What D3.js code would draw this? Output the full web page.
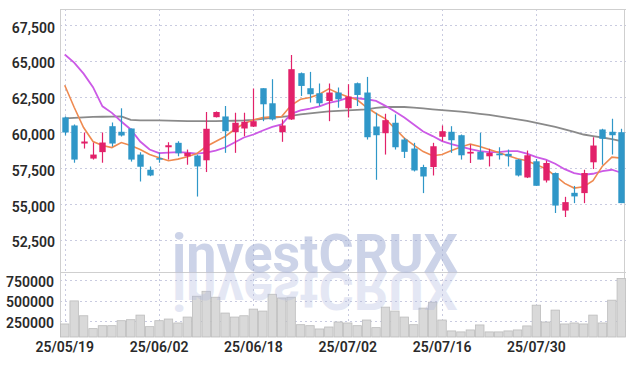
<!DOCTYPE html>
<html>
<head>
<meta charset="utf-8">
<script src="https://cdn.jsdelivr.net/npm/d3@7"></script>
<style>
  body { margin: 0; background: #fff; }
  svg { display: block; }
  .tick text { font-family: "Liberation Sans Narrow", "Roboto", sans-serif; font-size: 14px; font-weight: 600; fill: #2a2a2a; }
</style>
</head>
<body>
<script>
// trading days shown on the chart (yy/mm/dd)
var dates = [
  "25/05/19","25/05/20","25/05/21","25/05/22","25/05/23","25/05/26","25/05/27","25/05/28","25/05/29","25/05/30",
  "25/06/02","25/06/04","25/06/05","25/06/09","25/06/10","25/06/11","25/06/12","25/06/13","25/06/16","25/06/17",
  "25/06/18","25/06/19","25/06/20","25/06/23","25/06/24","25/06/25","25/06/26","25/06/27","25/06/30","25/07/01",
  "25/07/02","25/07/03","25/07/04","25/07/07","25/07/08","25/07/09","25/07/10","25/07/11","25/07/14","25/07/15",
  "25/07/16","25/07/17","25/07/18","25/07/21","25/07/22","25/07/23","25/07/24","25/07/25","25/07/28","25/07/29",
  "25/07/30","25/07/31","25/08/01","25/08/04","25/08/05","25/08/06","25/08/07","25/08/08","25/08/11","25/08/12"
]

var opens = [61050,60490,59230,58180,58630,60440,60050,60280,58460,57400,
             58210,58970,59280,58340,58390,58060,61070,61120,60020,60280,
             60410,63090,62040,60020,60910,64140,63090,62740,62200,62790,
             61690,63440,62790,60420,59950,60680,59510,58880,57590,57590,
             59700,60050,59810,58530,58650,58340,58530,58510,58110,56860,
             57990,56650,57170,54550,55790,55770,57920,60210,60050,60020]
var highs = [61120,60560,60000,59300,60000,60700,61690,60280,58620,57630,
             58600,59320,59390,58810,58460,61430,61470,61850,61380,61380,
             63070,63090,63720,60910,65410,64190,64230,63420,63420,63140,
             63370,63490,63880,61380,61310,61260,59630,59280,57750,59280,
             60490,60440,59860,59160,59980,58860,58970,58810,58150,58740,
             58150,58040,57210,55510,56270,57400,59670,60260,60960,60260]
var lows = [59790,57890,58880,58110,57890,59020,59720,57970,56580,56950,
            57890,58110,58340,57750,55530,57240,61050,58580,58580,59740,
            60390,60790,60840,59350,60880,62550,62090,61850,60790,61730,
            61050,61850,59510,56700,58460,58810,58220,57280,55770,57000,
            59390,58580,58110,57870,58110,57630,58110,57630,56930,56820,
            56280,56510,54380,54100,55070,55070,57450,57750,58460,55070]
var closes = [60000,58110,59370,58460,59300,59230,59790,58110,57610,57000,
              58110,59110,58550,58580,57630,60260,61430,60090,60680,60750,
              60790,61970,60910,60490,64420,63250,62670,62040,62790,62320,
              62510,62620,59670,59810,60860,58970,58650,57350,56930,59040,
              60090,59460,58410,58650,58110,58580,58410,58340,57000,58410,
              56280,57870,54900,55140,55540,57170,59090,59560,59810,55070]
var volumes = [214000,495000,314000,157000,193000,193000,254000,266000,322000,181000,
               254000,274000,226000,298000,552000,612000,540000,347000,298000,314000,
               395000,371000,576000,531000,540000,205000,193000,153000,177000,238000,
               226000,193000,262000,169000,419000,371000,298000,205000,407000,479000,
               262000,129000,117000,141000,202000,117000,117000,129000,141000,190000,
               443000,238000,383000,214000,226000,214000,322000,226000,504000,769000]

// moving average lines
var ma5 = [63300,61760,60350,59370,59090,58950,59300,59090,58810,58460,
           58240,58030,58140,58310,58530,59020,59370,59720,60210,60630,
           60880,61050,61090,61120,61900,62320,62440,62670,63050,62740,
           62490,62280,61760,61330,60950,60280,59610,59120,58670,58380,
           58460,58740,58980,59190,59020,58810,58600,58380,58170,58030,
           57750,57470,56980,56450,56120,56210,56630,57650,58280,58210]
var ma10 = [65440,64880,64110,63160,61830,61370,60770,60210,59370,58810,
            58560,58600,58630,58600,58530,58600,58740,58950,59300,59650,
            59860,60140,60390,60560,61300,61540,61660,61830,62070,62210,
            62420,62390,62320,62210,61860,61470,61050,60560,60070,59750,
            59400,59190,59020,58840,58700,58630,58630,58700,58700,58530,
            58280,58100,57820,57440,57160,57050,57120,57300,57400,57190]
var ma60 = [60980,61020,61050,61090,61100,61110,61120,60880,60840,60840,
            60840,60830,60810,60790,60790,60790,60790,60810,60820,60840,
            60880,60950,61020,61090,61160,61260,61330,61400,61470,61510,
            61540,61580,61620,61720,61780,61790,61780,61740,61690,61620,
            61560,61510,61460,61380,61300,61230,61120,61020,60910,60810,
            60670,60530,60390,60210,60040,59860,59750,59650,59540,59400]

var priceTicks = [52500, 55000, 57500, 60000, 62500, 65000, 67500]
var volumeTicks = [250000, 500000, 750000]
var dateTicks = ["25/05/19","25/06/02","25/06/18","25/07/02","25/07/16","25/07/30"]

var width = 634
var height = 366
var left = 60, right = 626
var priceTop = 9, priceBottom = 272
var volTop = 272, volBottom = 337

var svg = d3.select("body")
            .append("svg")
            .attr("width", width)
            .attr("height", height)

var xScale = d3.scaleBand()
               .domain(dates)
               .range([left, right])
var cx = function(d){ return xScale(d) + xScale.bandwidth() / 2 }

var yScale = d3.scaleLinear()
               .domain([50263, 68620])
               .range([priceBottom, priceTop])
var vScale = d3.scaleLinear()
               .domain([0, 750000])
               .range([341.5, 280])

// grid lines
var grid = svg.append("g")
              .attr("stroke", "#c9cbe0")
              .attr("stroke-width", 1)
              .attr("stroke-dasharray", "2,3")
grid.selectAll(".hp")
    .data(priceTicks)
    .enter()
    .append("line")
    .attr("x1", left).attr("x2", right)
    .attr("y1", function(d){ return Math.round(yScale(d)) + 0.5 })
    .attr("y2", function(d){ return Math.round(yScale(d)) + 0.5 })
grid.selectAll(".hv")
    .data(volumeTicks)
    .enter()
    .append("line")
    .attr("x1", left).attr("x2", right)
    .attr("y1", function(d){ return Math.round(vScale(d)) + 0.5 })
    .attr("y2", function(d){ return Math.round(vScale(d)) + 0.5 })
grid.selectAll(".vx")
    .data(dateTicks)
    .enter()
    .append("line")
    .attr("x1", function(d){ return Math.round(cx(d)) + 0.5 })
    .attr("x2", function(d){ return Math.round(cx(d)) + 0.5 })
    .attr("y1", priceTop).attr("y2", volBottom)

// frame
var frame = svg.append("g").attr("stroke", "#cfcfcf").attr("stroke-width", 1).attr("fill", "none")
frame.append("line").attr("x1", left).attr("x2", right).attr("y1", priceTop + 0.5).attr("y2", priceTop + 0.5)
frame.append("line").attr("x1", left).attr("x2", right).attr("y1", volTop + 0.5).attr("y2", volTop + 0.5)
frame.append("line").attr("x1", left + 0.5).attr("x2", left + 0.5).attr("y1", priceTop).attr("y2", volBottom)
frame.append("line").attr("x1", right - 1.5).attr("x2", right - 1.5).attr("y1", priceTop).attr("y2", volBottom)

// volume bars
svg.append("g")
   .selectAll("rect")
   .data(volumes)
   .enter()
   .append("rect")
   .attr("x", function(d, i){ return xScale(dates[i]) + 0.5 })
   .attr("width", xScale.bandwidth() - 1)
   .attr("y", function(d){ return vScale(d) })
   .attr("height", function(d){ return volBottom - vScale(d) })
   .attr("fill", "#d9d9d9")
   .attr("stroke", "#bcbcbc")
   .attr("stroke-width", 0.8)

// watermark with its mirror image below the baseline
var mark = svg.append("g")
              .style("font-family", "'Liberation Sans Narrow', Roboto, sans-serif")
              .style("font-weight", 700)
              .style("font-size", "54px")
mark.append("text")
    .attr("x", 172).attr("y", 272)
    .attr("textLength", 286).attr("lengthAdjust", "spacingAndGlyphs")
    .attr("fill", "#9aa8d2").attr("opacity", 0.5)
    .text("investCRUX")
mark.append("text")
    .attr("x", 172).attr("y", 272)
    .attr("transform", "translate(0," + (2 * 272) + ") scale(1,-1)")
    .attr("textLength", 286).attr("lengthAdjust", "spacingAndGlyphs")
    .attr("fill", "#aeb8de").attr("opacity", 0.32)
    .text("investCRUX")

// moving averages
var maLine = function(values){
  return d3.line()
           .x(function(d, i){ return cx(dates[i]) })
           .y(function(d){ return yScale(d) })(values)
}
svg.append("path").attr("d", maLine(ma60)).attr("fill", "none").attr("stroke", "#8a8a8a").attr("stroke-width", 1.8)
svg.append("path").attr("d", maLine(ma10)).attr("fill", "none").attr("stroke", "#cc5ae6").attr("stroke-width", 1.8)
svg.append("path").attr("d", maLine(ma5)).attr("fill", "none").attr("stroke", "#ef8a50").attr("stroke-width", 1.6)

// candles: red = up, blue = down
var upColour = "#e2216a"
var downColour = "#2f97c8"
var candle = svg.append("g")
                .selectAll("g")
                .data(dates)
                .enter()
                .append("g")
candle.append("line")
      .attr("x1", function(d){ return Math.round(cx(d)) + 0.5 })
      .attr("x2", function(d){ return Math.round(cx(d)) + 0.5 })
      .attr("y1", function(d, i){ return yScale(highs[i]) })
      .attr("y2", function(d, i){ return yScale(lows[i]) })
      .attr("stroke", function(d, i){ return closes[i] >= opens[i] ? upColour : downColour })
      .attr("stroke-width", 1.2)
candle.append("rect")
      .attr("x", function(d){ return Math.round(cx(d)) + 0.5 - 3.2 })
      .attr("width", 6.4)
      .attr("y", function(d, i){ return yScale(Math.max(opens[i], closes[i])) })
      .attr("height", function(d, i){
        return Math.max(1.5, Math.abs(yScale(opens[i]) - yScale(closes[i])))
      })
      .attr("fill", function(d, i){ return closes[i] >= opens[i] ? upColour : downColour })

// axes
var priceAxis = d3.axisLeft(yScale)
                  .tickValues(priceTicks)
                  .tickFormat(d3.format(","))
                  .tickSize(0)
                  .tickPadding(5)
svg.append("g")
   .attr("transform", "translate(" + left + ",0)")
   .call(priceAxis)
   .call(function(g){ g.select(".domain").remove() })
   .selectAll("text").attr("dy", "0.5em")

var volAxis = d3.axisLeft(vScale)
                .tickValues(volumeTicks)
                .tickFormat(d3.format("d"))
                .tickSize(0)
                .tickPadding(6)
svg.append("g")
   .attr("transform", "translate(" + left + ",0)")
   .call(volAxis)
   .call(function(g){ g.select(".domain").remove() })
   .selectAll("text").attr("dy", "0.45em")

var dateAxis = d3.axisBottom(xScale)
                 .tickValues(dateTicks)
                 .tickSize(0)
                 .tickPadding(5)
svg.append("g")
   .attr("transform", "translate(0," + volBottom + ")")
   .call(dateAxis)
   .call(function(g){ g.select(".domain").remove() })
</script>
</body>
</html>
